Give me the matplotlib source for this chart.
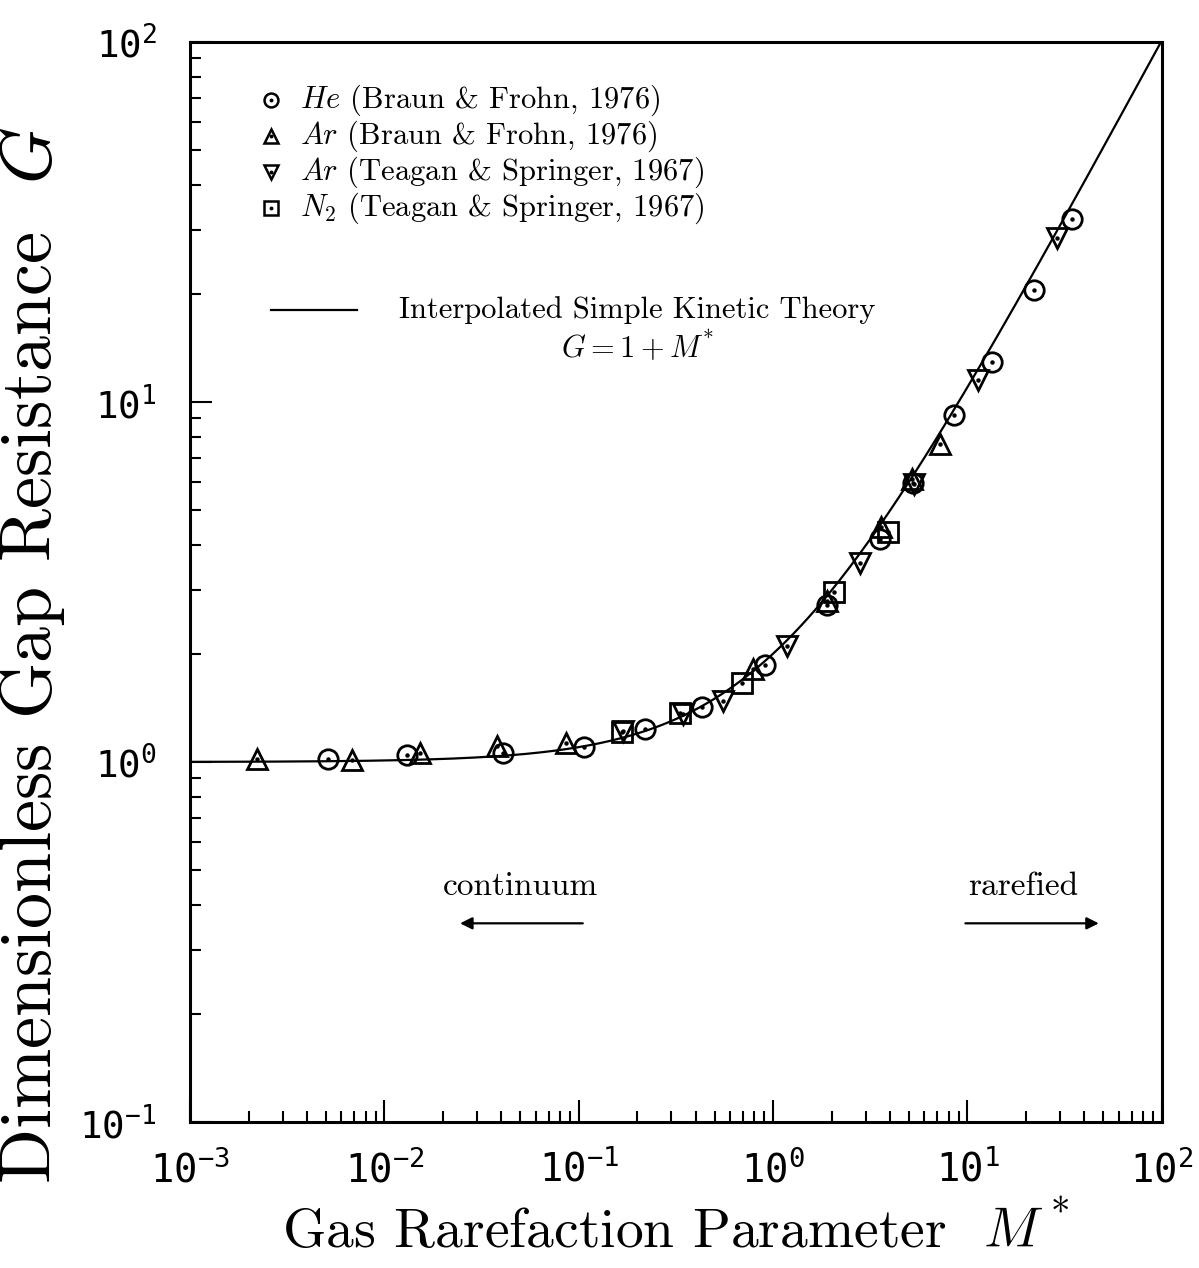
import numpy as np
import matplotlib
matplotlib.use('Agg')
import matplotlib.pyplot as plt

plt.rcParams['font.family'] = 'cmr10'
plt.rcParams['mathtext.fontset'] = 'custom'
plt.rcParams['mathtext.rm'] = 'cmr10'
plt.rcParams['mathtext.it'] = 'cmmi10'
plt.rcParams['mathtext.bf'] = 'cmb10'
plt.rcParams['mathtext.sf'] = 'cmss10'
plt.rcParams['mathtext.cal'] = 'cmsy10'
plt.rcParams['mathtext.tt'] = 'DejaVu Sans Mono'
plt.rcParams['axes.formatter.use_mathtext'] = True

# He (Braun & Frohn, 1976)
he_m = [5.1e-3, 0.0131, 0.0407, 0.106, 0.219, 0.430, 0.907, 1.89, 3.54, 5.23, 8.5, 13.4, 22.0, 34.4]
he_g = [1.02, 1.045, 1.06, 1.10, 1.235, 1.42, 1.86, 2.73, 4.17, 5.94, 9.2, 12.9, 20.5, 32.2]
# Ar (Braun & Frohn, 1976)
arb_m = [2.2e-3, 6.8e-3, 0.0152, 0.0379, 0.0859, 0.787, 1.9, 3.6, 5.2, 7.2]
arb_g = [1.02, 1.01, 1.06, 1.11, 1.13, 1.81, 2.8, 4.5, 6.1, 7.66]
# Ar (Teagan & Springer, 1967)
art_m = [0.169, 0.344, 0.553, 1.18, 2.80, 5.3, 11.3, 28.8]
art_g = [1.22, 1.36, 1.48, 2.10, 3.58, 5.9, 11.5, 28.6]
# N2 (Teagan & Springer, 1967)
n2_m = [0.167, 0.332, 0.69, 2.06, 3.9]
n2_g = [1.21, 1.37, 1.66, 2.97, 4.36]

series = [
    (he_m, he_g, 'o', r'$He$ (Braun & Frohn, 1976)'),
    (arb_m, arb_g, '^', r'$Ar$ (Braun & Frohn, 1976)'),
    (art_m, art_g, 'v', r'$Ar$ (Teagan & Springer, 1967)'),
    (n2_m, n2_g, 's', r'$N_2$ (Teagan & Springer, 1967)'),
]

tick_exps = [-3, -2, -1, 0, 1, 2]
ytick_exps = [-1, 0, 1, 2]

fig = plt.figure(figsize=(11.99, 12.68), dpi=100)
ax = fig.add_axes([0.1585, 0.1151, 0.8105, 0.8518])

# theory line G = 1 + M*
m_line = np.logspace(-3, 2, 400)
ax.plot(m_line, 1 + m_line, color='black', lw=1.6, zorder=2)

for m, g, mk, lab in series:
    ax.plot(m, g, linestyle='none', marker=mk, markersize=14, markerfacecolor='none',
            markeredgecolor='black', markeredgewidth=2.0, zorder=3)
    ax.plot(m, g, linestyle='none', marker='o', markersize=2.2, color='black', zorder=3)

ax.set_xscale('log')
ax.set_yscale('log')
ax.set_xlim(1e-3, 1e2)
ax.set_ylim(1e-1, 1e2)

ax.set_xticks([10.0 ** e for e in tick_exps])
ax.set_xticklabels([r'$\mathtt{10^{%d}}$' % e for e in tick_exps], fontsize=28)
ax.set_yticks([10.0 ** e for e in ytick_exps])
ax.set_yticklabels([r'$\mathtt{10^{%d}}$' % e for e in ytick_exps], fontsize=27)
ax.tick_params(which='both', direction='in', top=False, right=False, width=1.5)
ax.tick_params(which='major', length=16)
ax.tick_params(which='minor', length=8)
ax.tick_params(axis='x', pad=20)
ax.tick_params(axis='y', pad=24)
for sp in ax.spines.values():
    sp.set_linewidth(2.2)

ax.set_xlabel(r'Gas Rarefaction Parameter  $M^*$', fontsize=40, labelpad=8)
ax.set_ylabel(r'Dimensionless Gap Resistance  $G$', fontsize=52)
ax.yaxis.set_label_coords(-0.127, 0.432)

# legend for data series
lx = 0.083
for i, (m, g, mk, lab) in enumerate(series):
    yy = 0.946 - i * 0.0333
    ax.plot([lx], [yy], transform=ax.transAxes, marker=mk, markersize=10,
            markerfacecolor='none', markeredgecolor='black', markeredgewidth=1.8, clip_on=False)
    ax.plot([lx], [yy], transform=ax.transAxes, marker='o', markersize=1.8, color='black')
    ax.text(lx + 0.03, yy, lab, transform=ax.transAxes, fontsize=22, va='center', ha='left')

# theory line legend
ax.plot([0.083, 0.172], [0.752, 0.752], transform=ax.transAxes, color='black', lw=1.6)
ax.text(0.46, 0.752, 'Interpolated Simple Kinetic Theory', transform=ax.transAxes,
        fontsize=22, ha='center', va='center')
ax.text(0.46, 0.718, r'$G = 1 + M^{*}$', transform=ax.transAxes,
        fontsize=22, ha='center', va='center')

# regime annotations
ax.text(0.34, 0.218, 'continuum', transform=ax.transAxes, fontsize=24, ha='center', va='center')
ax.annotate('', xy=(0.275, 0.184), xytext=(0.407, 0.184), xycoords='axes fraction',
            arrowprops=dict(arrowstyle='-|>', color='black', lw=1.6, mutation_scale=18))
ax.text(0.857, 0.218, 'rarefied', transform=ax.transAxes, fontsize=24, ha='center', va='center')
ax.annotate('', xy=(0.938, 0.184), xytext=(0.795, 0.184), xycoords='axes fraction',
            arrowprops=dict(arrowstyle='-|>', color='black', lw=1.6, mutation_scale=18))

fig.savefig('out.png', dpi=100)
plt.close('all')
